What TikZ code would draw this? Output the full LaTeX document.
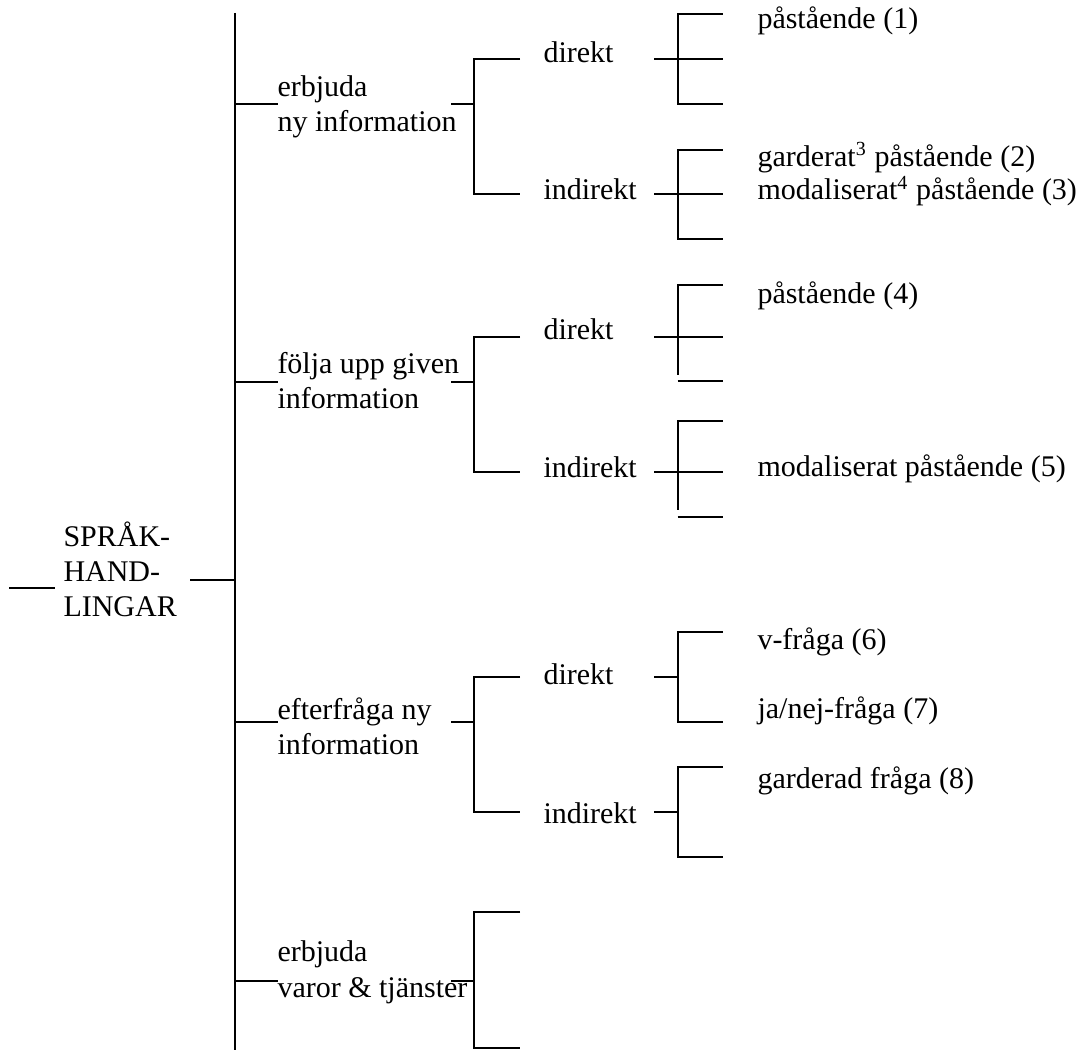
\documentclass[tikz,border=0pt]{standalone}
\usepackage{fontspec}
\setmainfont{Liberation Serif}
\usepackage{tikz}
\tikzset{
  %% ---- texts ----
  term/.style    = {anchor=base west, inner sep=0pt, align=left,
                    font=\fontsize{12}{14}\selectfont},
  %% ---- lines ----
  bar/.style     = {line width=0.8pt, line cap=butt, line join=miter},
}

\begin{document}
\begin{tikzpicture}[x=0.4pt, y=-0.4pt]
  \useasboundingbox (0,0) rectangle (1080,1050);

  %% Root (multi-line nodes sit on their last baseline)
  \node[term] (root) at (63,617) {SPRÅK-\\HAND-\\LINGAR};
  \draw[bar] (9,588.3) -- (55,588.3);
  \draw[bar] (190,580) -- (235,580);
  \draw[bar] (235,13) -- (235,1050);

  %% Speech act types (first level)
  \node[term] (offer)   at (277,131.7) {erbjuda\\ny information};
  \node[term] (follow)  at (277,408.3) {följa upp given\\information};
  \node[term] (request) at (277,755)   {efterfråga ny\\information};
  \node[term] (goods)   at (277,997)   {erbjuda\\varor \& tjänster};
  \foreach \y in {104.3, 381.7, 721.7, 980.5} {
    \draw[bar] (235,\y) -- (278,\y);
    \draw[bar] (451,\y) -- (473.5,\y);
  }

  %% Direct / indirect brackets (second level)
  \foreach \top/\bot in {59.3/194.3, 336.7/471.7, 676.7/811.7, 912.3/1048.3}
    \draw[bar] (520,\top) -- (473.5,\top) -- (473.5,\bot) -- (520,\bot);

  \node[term] (offerD)   at (543,62.7)  {direkt};
  \node[term] (offerI)   at (543,200)   {indirekt};
  \node[term] (followD)  at (543,340)   {direkt};
  \node[term] (followI)  at (543,478)   {indirekt};
  \node[term] (requestD) at (543,685)   {direkt};
  \node[term] (requestI) at (543,823.3) {indirekt};

  %% Realisations (third level)
  \draw[bar] (722.5,14) -- (677.5,14) -- (677.5,104.3) -- (722.5,104.3);
  \draw[bar] (654,59.3) -- (722.5,59.3);
  \draw[bar] (722.5,150) -- (677.5,150) -- (677.5,239.3) -- (722.5,239.3);
  \draw[bar] (654,194.3) -- (722.5,194.3);
  \draw[bar] (722.5,284.7) -- (677.5,284.7) -- (677.5,375);
  \draw[bar] (677.5,381) -- (722.5,381);
  \draw[bar] (654,336.7) -- (722.5,336.7);
  \draw[bar] (722.5,420.7) -- (677.5,420.7) -- (677.5,510.5);
  \draw[bar] (677.5,516.7) -- (722.5,516.7);
  \draw[bar] (654,471.7) -- (722.5,471.7);
  \draw[bar] (722.5,631.7) -- (677.5,631.7) -- (677.5,721.7) -- (722.5,721.7);
  \draw[bar] (654,676.7) -- (677.5,676.7);
  \draw[bar] (722.5,766.7) -- (677.5,766.7) -- (677.5,856.7) -- (722.5,856.7);
  \draw[bar] (654,811.7) -- (677.5,811.7);

  \node[term] (claim1) at (757,28.7)  {påstående (1)};
  \node[term] (claim2) at (757,166.7) {garderat\textsuperscript{3} påstående (2)};
  \node[term] (claim3) at (757,200)   {modaliserat\textsuperscript{4} påstående (3)};
  \node[term] (claim4) at (757,303.3) {påstående (4)};
  \node[term] (claim5) at (757,476.7) {modaliserat påstående (5)};
  \node[term] (quest6) at (757,650)   {v-fråga (6)};
  \node[term] (quest7) at (757,718.3) {ja/nej-fråga (7)};
  \node[term] (quest8) at (757,788.3) {garderad fråga (8)};

\end{tikzpicture}
\end{document}
